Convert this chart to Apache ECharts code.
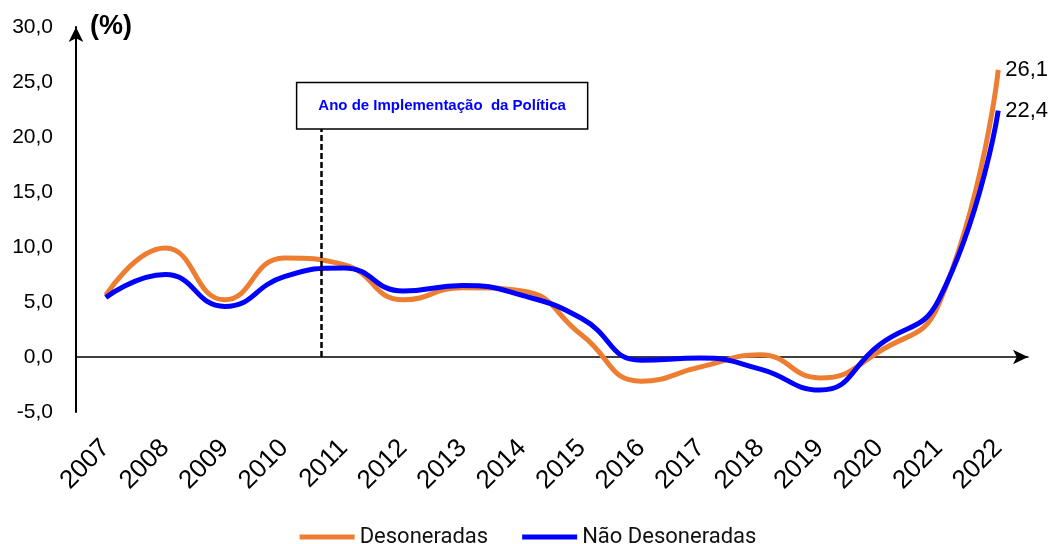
<!DOCTYPE html>
<html>
<head>
<meta charset="utf-8">
<script src="https://cdn.jsdelivr.net/npm/echarts@6/dist/echarts.min.js"></script>
<style>
  html, body { margin: 0; padding: 0; background: #fff; }
  #chart { width: 1056px; height: 544px; }
</style>
</head>
<body>
<div id="chart"></div>
<script>
const years = ['2007','2008','2009','2010','2011','2012','2013','2014','2015','2016','2017','2018','2019','2020','2021','2022'];
const desoneradas = [5.6, 9.9, 5.2, 9.0, 8.4, 5.2, 6.3, 6.0, 2.0, -2.2, -0.9, 0.2, -1.9, 0.5, 4.8, 26.1];
const naoDesoneradas = [5.4, 7.5, 4.6, 7.3, 8.1, 6.0, 6.5, 5.6, 3.5, -0.3, -0.1, -1.1, -3.0, 1.1, 5.2, 22.4];
const seriesNames = ['Desoneradas', 'Não Desoneradas'];
const yTicks = { min: -5, max: 30, interval: 5 };
const policyPosition = 3.62;   // position on the category index scale (between 2010 and 2011)
const policyLineTop = 20.8;
const policyText = 'Ano de Implementação  da Política';

const fmt = v => Number(v).toFixed(1).replace('.', ',');
const FONT = '"Liberation Sans", Arial, sans-serif';

const chart = echarts.init(document.getElementById('chart'), null, { renderer: 'canvas' });
chart.setOption({
  animation: false,
  backgroundColor: '#ffffff',
  textStyle: { fontFamily: FONT },
  grid: { left: 76, right: 28, top: 27, bottom: 132, containLabel: false },
  legend: {
    data: seriesNames,
    left: 'center',
    top: 521,
    icon: 'rect',
    itemWidth: 55,
    itemHeight: 5,
    itemGap: 34,
    textStyle: { fontFamily: 'Roboto, sans-serif', fontSize: 22, color: '#111' }
  },
  xAxis: [
    {
      type: 'category',
      data: years,
      boundaryGap: true,
      position: 'bottom',
      axisLine: { show: false, onZero: false },
      axisTick: { show: false },
      axisLabel: {
        rotate: 45,
        interval: 0,
        margin: 32,
        fontSize: 26,
        color: '#000',
        fontFamily: FONT
      },
      splitLine: { show: false }
    },
    {
      type: 'value',
      min: -0.5,
      max: 15.5,
      position: 'bottom',
      axisLine: {
        show: true,
        onZero: true,
        symbol: ['none', 'arrow'],
        symbolSize: [11, 15],
        lineStyle: { color: '#000', width: 1.5 }
      },
      axisTick: { show: false },
      axisLabel: { show: false },
      splitLine: { show: false }
    }
  ],
  yAxis: {
    type: 'value',
    min: yTicks.min,
    max: yTicks.max,
    interval: yTicks.interval,
    name: '(%)',
    nameLocation: 'end',
    nameGap: 0,
    nameTextStyle: {
      fontSize: 27,
      fontWeight: 'bold',
      color: '#000',
      align: 'left',
      verticalAlign: 'middle',
      padding: [0, 0, 0, 14],
      fontFamily: FONT
    },
    axisLine: {
      show: true,
      onZero: false,
      symbol: ['none', 'arrow'],
      symbolSize: [11, 15],
      lineStyle: { color: '#000', width: 2 }
    },
    axisTick: { show: false },
    axisLabel: {
      formatter: fmt,
      fontSize: 21,
      color: '#000',
      margin: 23,
      fontFamily: FONT
    },
    splitLine: { show: false }
  },
  series: [
    {
      name: seriesNames[0],
      type: 'line',
      data: desoneradas,
      smooth: 0.5,
      showSymbol: false,
      symbol: 'none',
      lineStyle: { color: '#ED7D31', width: 5 },
      itemStyle: { color: '#ED7D31' },
      endLabel: {
        show: true,
        formatter: p => fmt(p.value),
        fontSize: 22,
        color: '#000',
        distance: 7,
        fontFamily: FONT
      },
      z: 2
    },
    {
      name: seriesNames[1],
      type: 'line',
      data: naoDesoneradas,
      smooth: 0.5,
      showSymbol: false,
      symbol: 'none',
      lineStyle: { color: '#0000FF', width: 5 },
      itemStyle: { color: '#0000FF' },
      endLabel: {
        show: true,
        formatter: p => fmt(p.value),
        fontSize: 22,
        color: '#000',
        distance: 7,
        fontFamily: FONT
      },
      z: 3
    },
    {
      name: 'policy',
      type: 'line',
      xAxisIndex: 1,
      data: [],
      silent: true,
      markLine: {
        silent: true,
        symbol: ['none', 'none'],
        lineStyle: { color: '#000', width: 2.5, type: [6, 3] },
        label: {
          show: true,
          position: 'end',
          distance: 0,
          offset: [121, 0],
          formatter: policyText,
          backgroundColor: '#fff',
          borderColor: '#000',
          borderWidth: 1.5,
          padding: [15, 21, 15, 21],
          color: '#0000FF',
          fontWeight: 'bold',
          fontSize: 15,
          fontFamily: '"Liberation Sans Narrow", "Arial Narrow", "Liberation Sans", sans-serif'
        },
        data: [[
          { coord: [policyPosition, 0] },
          { coord: [policyPosition, policyLineTop] }
        ]]
      }
    }
  ]
});
</script>
</body>
</html>
